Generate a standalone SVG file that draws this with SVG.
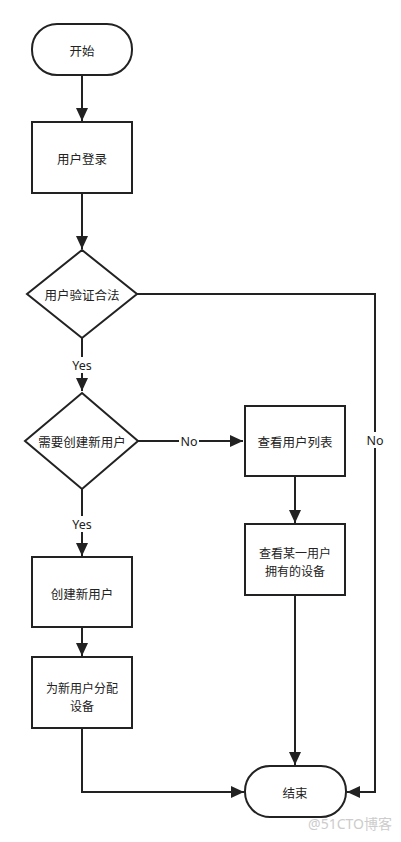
<svg xmlns="http://www.w3.org/2000/svg" width="401" height="842" viewBox="0 0 401 842">
<style>
.n{fill:#fff;stroke:#222;stroke-width:2}
.t{font-family:"Noto Sans CJK SC","Noto Sans",sans-serif;font-size:12.5px;fill:#222;text-anchor:middle;dominant-baseline:central}
.t2{font-size:12px}
.e{fill:none;stroke:#222;stroke-width:2}
.l{font-family:"Noto Sans","Noto Sans CJK SC",sans-serif;font-size:12.5px;fill:#222;text-anchor:middle;dominant-baseline:central}
.lb{fill:#fff}
</style>
<defs>
<marker id="a" markerUnits="userSpaceOnUse" markerWidth="14" markerHeight="12" refX="13" refY="6" orient="auto">
<path d="M0,0 L13,6 L0,12 z" fill="#222"/>
</marker>
</defs>
<rect width="401" height="842" fill="#fff"/>
<g id="edges">
<path class="e" d="M82,75 V121" marker-end="url(#a)"/>
<path class="e" d="M82,193 V249" marker-end="url(#a)"/>
<path class="e" d="M82,338 V391" marker-end="url(#a)"/>
<path class="e" d="M137,294 H375 V792 H347" marker-end="url(#a)"/>
<path class="e" d="M138,441 H243" marker-end="url(#a)"/>
<path class="e" d="M295,476 V523" marker-end="url(#a)"/>
<path class="e" d="M295,595 V765" marker-end="url(#a)"/>
<path class="e" d="M82,489 V556" marker-end="url(#a)"/>
<path class="e" d="M82,627 V656" marker-end="url(#a)"/>
<path class="e" d="M82,728 V792 H244" marker-end="url(#a)"/>
<rect class="lb" x="70" y="357" width="24" height="16"/>
<text class="l" x="82" y="365">Yes</text>
<rect class="lb" x="70" y="516" width="24" height="16"/>
<text class="l" x="82" y="524">Yes</text>
<rect class="lb" x="179" y="433" width="20" height="16"/>
<text class="l" x="189" y="441">No</text>
<rect class="lb" x="365" y="432" width="20" height="16"/>
<text class="l" x="375" y="440">No</text>
</g>
<g id="start">
<rect class="n" x="32" y="24" width="100" height="51" rx="25" ry="25"/>
<text class="t" x="82" y="50">开始</text>
</g>
<g id="login">
<rect class="n" x="32" y="122" width="100" height="71"/>
<text class="t" x="82" y="158">用户登录</text>
</g>
<g id="valid">
<polygon class="n" points="82,250 137,294 82,338 27,294"/>
<text class="t" x="82" y="294">用户验证合法</text>
</g>
<g id="needNew">
<polygon class="n" points="82,393 138,441 82,489 25,441"/>
<text class="t" x="82" y="441">需要创建新用户</text>
</g>
<g id="list">
<rect class="n" x="245" y="406" width="100" height="70"/>
<text class="t" x="295" y="441">查看用户列表</text>
</g>
<g id="devices">
<rect class="n" x="245" y="524" width="100" height="71"/>
<text class="t t2" x="295" y="552">查看某一用户</text>
<text class="t t2" x="295" y="570">拥有的设备</text>
</g>
<g id="create">
<rect class="n" x="32" y="557" width="100" height="70"/>
<text class="t" x="82" y="593">创建新用户</text>
</g>
<g id="assign">
<rect class="n" x="32" y="657" width="100" height="71"/>
<text class="t t2" x="82" y="687">为新用户分配</text>
<text class="t t2" x="82" y="705">设备</text>
</g>
<g id="end">
<rect class="n" x="245" y="766" width="101" height="51" rx="25" ry="25"/>
<text class="t" x="295" y="792">结束</text>
</g>
<text x="392" y="829" font-family="'Noto Sans','Noto Sans CJK SC',sans-serif" font-size="14" fill="#ccc" text-anchor="end">@51CTO博客</text>
</svg>
